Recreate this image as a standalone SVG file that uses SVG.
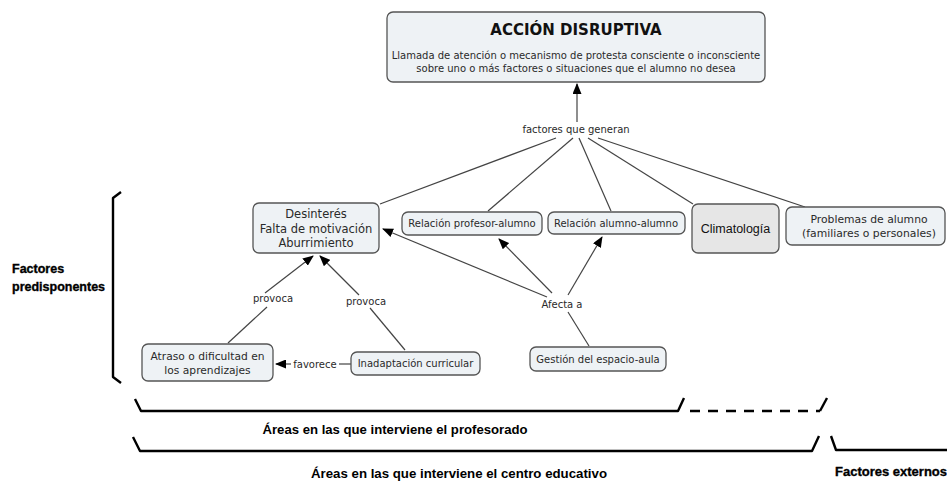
<svg xmlns="http://www.w3.org/2000/svg" width="947" height="481" viewBox="0 0 947 481">
<style>
.box{fill:#eef2f5;stroke:#555;stroke-width:1.3}
.clim{fill:#e6e6e6;stroke:#555;stroke-width:1.3}
.t{font-family:"DejaVu Sans",Verdana,sans-serif;font-size:10px;fill:#2a2a2a;text-anchor:middle}
.lbl{font-family:"DejaVu Sans",Verdana,sans-serif;font-size:10px;fill:#2a2a2a;text-anchor:middle}
.con{stroke:#444;stroke-width:1.2;fill:none}
.br{stroke:#000;stroke-width:2.4;fill:none;stroke-linejoin:round}
.head{font-family:"Liberation Sans",Arial,sans-serif;font-weight:bold;font-size:12.5px;fill:#000;stroke:#000;stroke-width:0.35}
.area{font-family:"Liberation Sans Narrow","Liberation Sans",Arial,sans-serif;font-weight:bold;font-size:13px;fill:#000;text-anchor:middle}
</style>
<defs>
<marker id="ah" markerUnits="userSpaceOnUse" markerWidth="11" markerHeight="9" refX="10" refY="4.5" orient="auto">
<path d="M0,0 L11,4.5 L0,9 z" fill="#000"/>
</marker>
</defs>

<g id="connectors">
<line class="con" x1="577" y1="122" x2="577" y2="84" marker-end="url(#ah)"/>
<line class="con" x1="556" y1="138" x2="380" y2="204"/>
<line class="con" x1="573" y1="138" x2="488" y2="211"/>
<line class="con" x1="579" y1="138" x2="611" y2="211"/>
<line class="con" x1="588" y1="138" x2="693" y2="204"/>
<line class="con" x1="598" y1="138" x2="805" y2="207"/>
<line class="con" x1="228" y1="343" x2="267" y2="307"/>
<line class="con" x1="265" y1="293" x2="313" y2="256" marker-end="url(#ah)"/>
<line class="con" x1="405" y1="350" x2="370" y2="308"/>
<line class="con" x1="359" y1="295" x2="320" y2="256" marker-end="url(#ah)"/>
<line class="con" x1="351" y1="364" x2="339" y2="364"/>
<line class="con" x1="291" y1="364" x2="276" y2="364" marker-end="url(#ah)"/>
<line class="con" x1="589" y1="346" x2="568" y2="312"/>
<line class="con" x1="547" y1="297" x2="383" y2="229" marker-end="url(#ah)"/>
<line class="con" x1="552" y1="293" x2="499" y2="239" marker-end="url(#ah)"/>
<line class="con" x1="568" y1="295" x2="602" y2="237" marker-end="url(#ah)"/>
</g>

<g id="labels">
<text class="lbl" x="576" y="133">factores que generan</text>
<text class="lbl" x="273" y="302">provoca</text>
<text class="lbl" x="366" y="305">provoca</text>
<text class="lbl" x="315" y="368">favorece</text>
<text class="lbl" x="562" y="308">Afecta a</text>
</g>

<g id="accion">
<rect class="box" x="387" y="12" width="378" height="70" rx="6"/>
<text x="576" y="35" style="font-family:'DejaVu Sans',Verdana,sans-serif;font-weight:bold;font-size:15px;fill:#111;text-anchor:middle">ACCIÓN DISRUPTIVA</text>
<text class="t" x="576" y="59">Llamada de atención o mecanismo de protesta consciente o inconsciente</text>
<text class="t" x="576" y="72">sobre uno o más factores o situaciones que el alumno no desea</text>
</g>

<g id="desinteres">
<rect class="box" x="253" y="203" width="126" height="50" rx="6"/>
<text class="t" x="316" y="218" style="font-size:11.5px">Desinterés</text>
<text class="t" x="316" y="233" style="font-size:11.5px">Falta de motivación</text>
<text class="t" x="316" y="247" style="font-size:11.5px">Aburrimiento</text>
</g>

<g id="relacion-profesor">
<rect class="box" x="402" y="212" width="140" height="23" rx="6"/>
<text class="t" x="472" y="227">Relación profesor-alumno</text>
</g>

<g id="relacion-alumno">
<rect class="box" x="548" y="212" width="137" height="22" rx="6"/>
<text class="t" x="616" y="227">Relación alumno-alumno</text>
</g>

<g id="climatologia">
<rect class="clim" x="692" y="204" width="87" height="49" rx="6"/>
<text x="735.5" y="233" style="font-family:'Liberation Sans',Arial,sans-serif;font-size:12.5px;fill:#111;text-anchor:middle">Climatología</text>
</g>

<g id="problemas">
<rect class="box" x="786" y="207" width="159" height="38" rx="6"/>
<text class="t" x="869" y="223" style="font-size:10.8px">Problemas de alumno</text>
<text class="t" x="869" y="237" style="font-size:10.8px">(familiares o personales)</text>
</g>

<g id="atraso">
<rect class="box" x="142" y="344" width="131" height="37" rx="6"/>
<text class="t" x="207.5" y="360" style="font-size:10.7px">Atraso o dificultad en</text>
<text class="t" x="207.5" y="374" style="font-size:10.7px">los aprendizajes</text>
</g>

<g id="inadaptacion">
<rect class="box" x="351" y="352" width="129" height="23" rx="6"/>
<text class="t" x="415.5" y="367">Inadaptación curricular</text>
</g>

<g id="gestion">
<rect class="box" x="530" y="347" width="136" height="24" rx="6"/>
<text class="t" x="598" y="363">Gestión del espacio-aula</text>
</g>

<g id="brackets">
<path class="br" d="M121,192 L113,198 L113,377 L121,383"/>
<path class="br" d="M135,399 L141,411 L678,411 L684,398"/>
<path class="br" d="M690,411 L820,411" stroke-dasharray="10,8"/>
<path class="br" d="M820,411 L827,398"/>
<path class="br" d="M133,437 L140,451 L812,451 L819,436"/>
<path class="br" d="M831,436 L836,450 L947,450"/>
</g>

<g id="headings">
<text class="head" x="12" y="273">Factores</text>
<text class="head" x="12" y="291">predisponentes</text>
<text class="area" x="395" y="434" textLength="265" lengthAdjust="spacingAndGlyphs">Áreas en las que interviene el profesorado</text>
<text class="area" x="459" y="478" textLength="296" lengthAdjust="spacingAndGlyphs">Áreas en las que interviene el centro educativo</text>
<text class="head" x="835" y="476" style="font-size:13px">Factores externos</text>
</g>
</svg>
